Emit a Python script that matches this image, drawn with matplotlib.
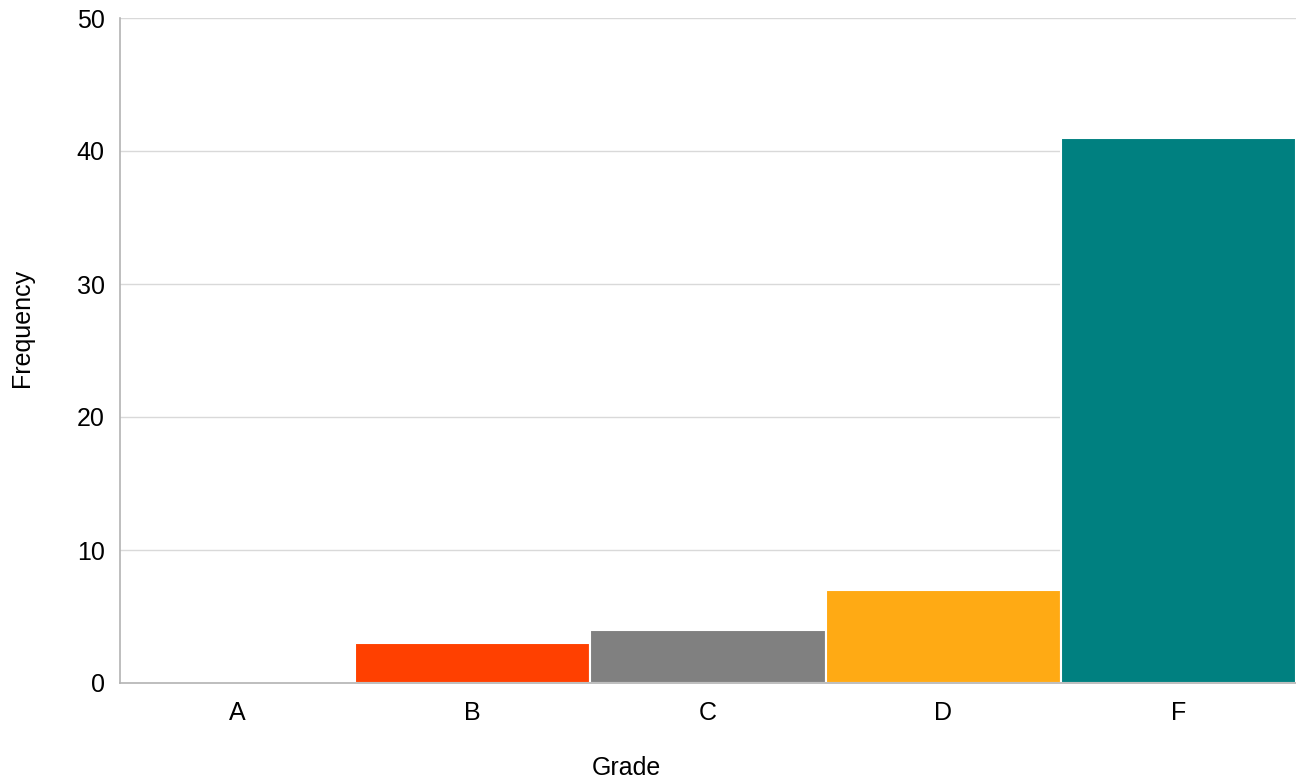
import matplotlib
matplotlib.use("Agg")
import matplotlib.pyplot as plt

grades = ["A", "B", "C", "D", "F"]
freq = [0, 3, 4, 7, 41]
colors = ["#004586", "#FF4000", "#808080", "#FFAA14", "#008080"]
yticks = [0, 10, 20, 30, 40, 50]

plt.rcParams['font.family'] = ['Liberation Sans', 'DejaVu Sans']

W, H = 1296, 784
fig = plt.figure(figsize=(W / 100, H / 100), dpi=100)
ax = fig.add_axes([120/W, 1 - 683/H, 1 - 120/W, (683 - 18)/H])

x = range(len(grades))
ax.bar(x, freq, width=1.0, color=colors, edgecolor="white", linewidth=1.5, zorder=2)

ax.set_xlim(-0.5, len(grades) - 0.5)
ax.set_ylim(0, 50)
ax.set_yticks(yticks)
ax.set_xticks(list(x))
ax.set_xticklabels(grades)
ax.yaxis.grid(True, color="#d9d9d9", linewidth=1, zorder=0)
ax.set_axisbelow(True)
ax.tick_params(axis="both", length=0, labelsize=18, colors="black")
ax.tick_params(axis="y", pad=11)
ax.tick_params(axis="x", pad=13)

for side in ["top", "right"]:
    ax.spines[side].set_visible(False)
ax.spines["left"].set_color("#b3b3b3")
ax.spines["bottom"].set_color("#b3b3b3")
ax.spines["left"].set_linewidth(1.2)
ax.spines["bottom"].set_linewidth(1.2)

# axis titles sit at fixed spots, not centred on the axes
fig.text(626/W, 1 - 768/H, "Grade", fontsize=18, ha="center", va="center")
fig.text(22/W, 1 - 328/H, "Frequency", fontsize=18, ha="center", va="center",
         rotation=90)

fig.savefig("out.png", dpi=100)
